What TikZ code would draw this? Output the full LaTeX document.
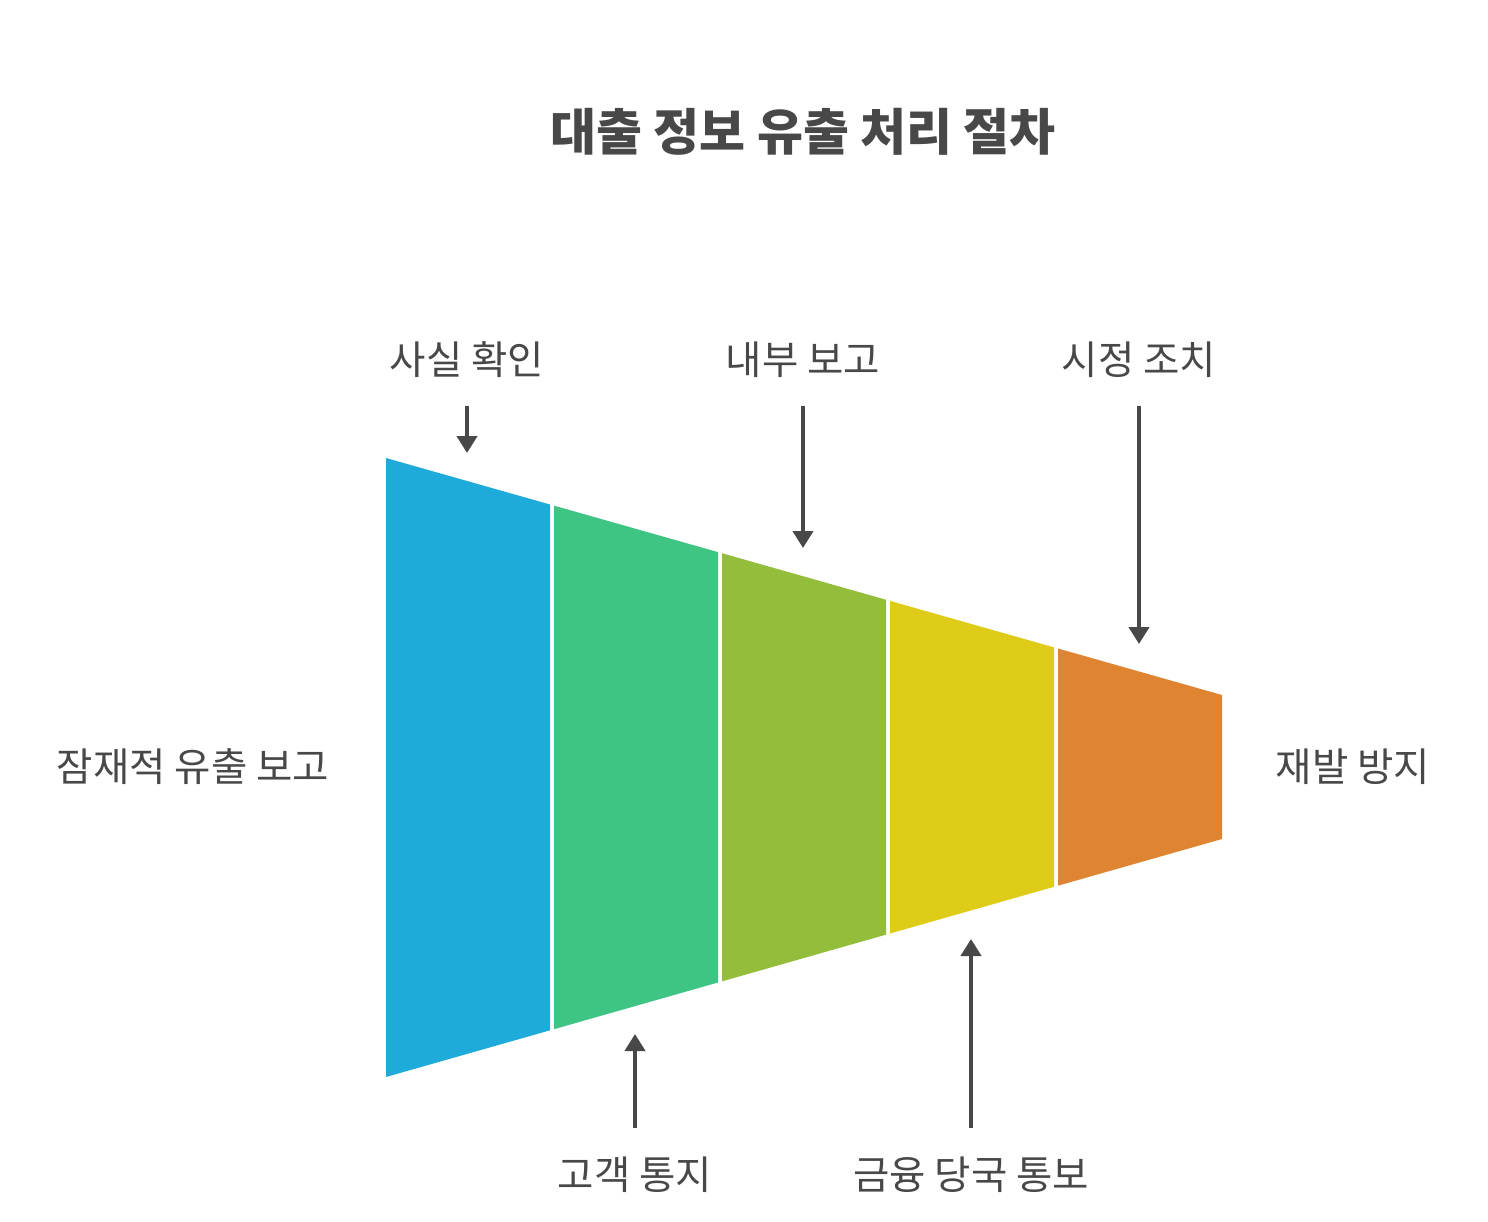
\documentclass[tikz,border=0pt]{standalone}
\usepackage{fontspec}
\setmainfont{Noto Sans CJK KR}
\usepackage{xcolor}
\usepackage{tikz}
\usetikzlibrary{positioning}
\usetikzlibrary{arrows.meta}
\definecolor{txtgray}{HTML}{484848}
\definecolor{cblue}{HTML}{1FABDA}
\definecolor{cgreen}{HTML}{3EC584}
\definecolor{colive}{HTML}{93BD3A}
\definecolor{cyellow}{HTML}{DFCC18}
\definecolor{corange}{HTML}{DF8431}
\tikzstyle{lbl}=[text=txtgray, font=\fontsize{39.5}{46}\selectfont, inner sep=0pt]
\tikzstyle{ttl}=[text=txtgray, font=\fontsize{50}{58}\selectfont\bfseries, inner sep=0pt]
\tikzstyle{pointer}=[draw=txtgray, line width=4pt, -{Triangle[width=20pt,length=17pt]}]

\begin{document}
\begin{tikzpicture}[x=1pt, y=-1pt]

 \useasboundingbox (0,0) rectangle (1488,1222);

 \node[ttl] (title) at (803,132) {대출 정보 유출 처리 절차};

 %funnel
  \foreach \xl/\xr/\name/\col in {386/550/s1/cblue, 554/718/s2/cgreen, 722/886/s3/colive, 890/1054/s4/cyellow, 1058/1222/s5/corange}
  {
   \pgfmathsetmacro{\tl}{458+(\xl-386)*0.2835}
   \pgfmathsetmacro{\tr}{458+(\xr-386)*0.2835}
   \pgfmathsetmacro{\bl}{1077-(\xl-386)*0.2847}
   \pgfmathsetmacro{\br}{1077-(\xr-386)*0.2847}
   \fill[\col] (\xl,\tl) -- (\xr,\tr) -- (\xr,\br) -- (\xl,\bl) -- cycle;
  }

 %side labels
 \node[lbl] (start) at (193,767) {잠재적 유출 보고};
 \node[lbl] (finish) at (1353,767) {재발 방지};

 %top steps
  \foreach \x/\ye/\name/\label in {467/453/check/사실 확인, 803/548/inner/내부 보고, 1139/644/fix/시정 조치}
  {
   \node[lbl] (\name) at (\x,360) {\label};
   \coordinate (\name a) at (\x,406);
   \coordinate (\name b) at (\x,\ye);
   \draw[pointer] (\name a) -- (\name b);
  }

 %bottom steps
  \foreach \x/\ye/\name/\label in {635/1034/notify/고객 통지, 971/939/report/금융 당국 통보}
  {
   \node[lbl] (\name) at (\x,1175) {\label};
   \coordinate (\name a) at (\x,1128);
   \coordinate (\name b) at (\x,\ye);
   \draw[pointer] (\name a) -- (\name b);
  }

\end{tikzpicture}
\end{document}
